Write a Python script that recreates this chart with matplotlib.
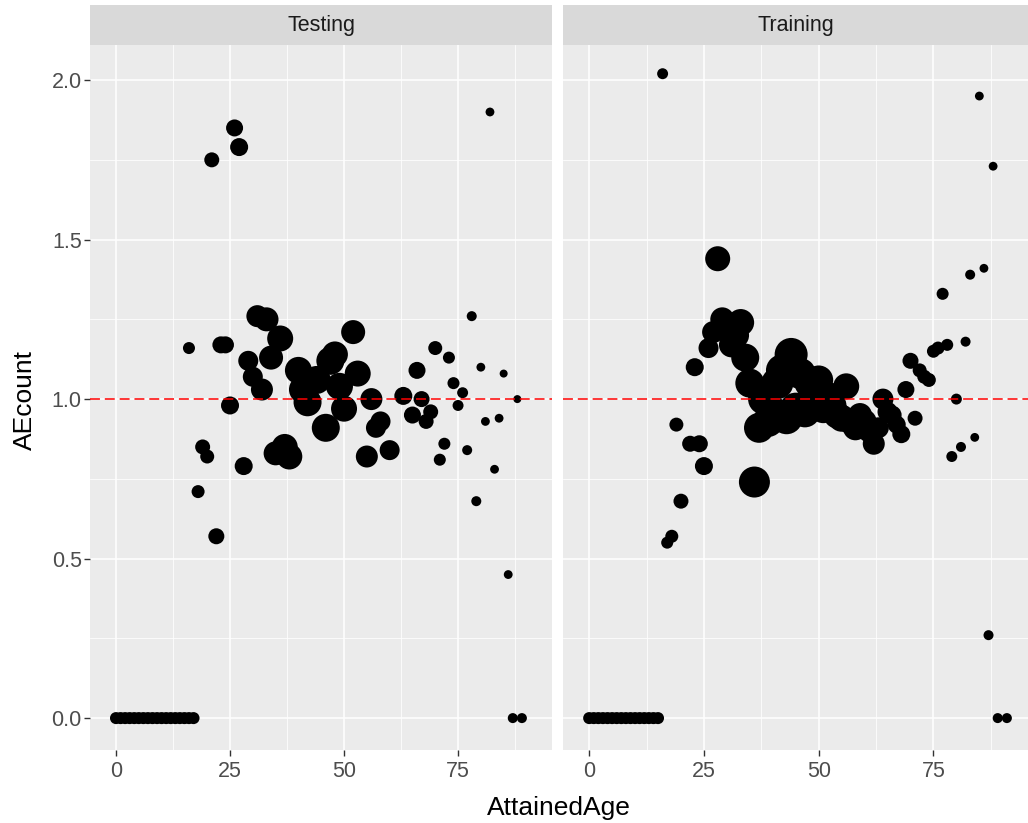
import numpy as np
import matplotlib
matplotlib.use("Agg")
import matplotlib.pyplot as plt
from matplotlib.ticker import MultipleLocator

plt.rcParams['font.family'] = ['Liberation Sans', 'DejaVu Sans']

# Testing facet
test_age = [0, 1, 2, 3, 4, 5, 6, 7, 8, 9, 10, 11, 12, 13, 14, 15, 16, 17,
            16, 18, 19, 20, 21, 22, 23, 24, 25, 26, 27, 28, 29, 30, 31, 32, 33, 34, 35, 36,
            37, 38, 40, 41, 42, 44, 46, 47, 48, 49, 50, 52, 53, 55, 56, 57, 58, 60, 63, 65,
            66, 67, 68, 69, 70, 71, 72, 73, 74, 75, 76, 77, 78, 79, 80, 81, 82, 83, 84, 85,
            86, 87, 88, 89]
test_ae = [0] * 18 + [
    1.16, 0.71, 0.85, 0.82, 1.75, 0.57, 1.17, 1.17, 0.98, 1.85,
    1.79, 0.79, 1.12, 1.07, 1.26, 1.03, 1.25, 1.13, 0.83, 1.19,
    0.85, 0.82, 1.09, 1.03, 0.99, 1.06, 0.91, 1.12, 1.14, 1.04,
    0.97, 1.21, 1.08, 0.82, 1.00, 0.91, 0.93, 0.84, 1.01, 0.95,
    1.09, 1.00, 0.93, 0.96, 1.16, 0.81, 0.86, 1.13, 1.05, 0.98,
    1.02, 0.84, 1.26, 0.68, 1.10, 0.93, 1.90, 0.78, 0.94, 1.08,
    0.45, 0, 1.00, 0]
test_expo = [24] * 18 + [
    24, 37, 72, 53, 72, 95, 120, 120, 148, 120,
    148, 148, 213, 213, 290, 290, 379, 379, 379, 479,
    479, 479, 534, 592, 592, 592, 592, 592, 479, 534,
    479, 379, 479, 290, 290, 213, 213, 213, 148, 120,
    120, 95, 72, 72, 53, 24, 24, 24, 24, 13,
    13, 6, 6, 6, 1, 1, 1, 1, 1, 0,
    1, 6, 0, 6]

# Training facet
train_age = list(range(0, 16)) + [16, 17, 18, 19, 20, 22, 23, 24, 25] + list(range(26, 89)) + [89, 91]
train_ae = [0] * 16 + [
    2.02, 0.55, 0.57, 0.92, 0.68, 0.86, 1.10, 0.86, 0.79,
    1.16, 1.21, 1.44, 1.25, 1.22, 1.17, 1.20, 1.24, 1.13, 1.05,   # 26-35
    0.74, 0.91, 1.00, 0.93, 0.96, 1.05, 1.09, 0.94, 1.14, 0.97,   # 36-45
    1.08, 0.96, 1.05, 0.98, 1.06, 0.97, 1.01, 0.98, 0.95, 0.94,   # 46-55
    1.04, 0.93, 0.91, 0.95, 0.93, 0.90, 0.86, 0.91, 1.00, 0.96,   # 56-65
    0.95, 0.92, 0.89, 1.03, 1.12, 0.94, 1.09, 1.07, 1.06, 1.15,   # 66-75
    1.16, 1.33, 1.17, 0.82, 1.00, 0.85, 1.18, 1.39, 0.88, 1.95,   # 76-85
    1.41, 0.26, 1.73,                                             # 86-88
    0, 0]
train_expo = [24] * 16 + [
    13, 24, 37, 53, 72, 95, 148, 120, 148,
    213, 290, 428, 379, 428, 428, 479, 534, 592, 652,
    783, 716, 783, 783, 783, 852, 852, 852, 925, 852,
    783, 783, 716, 716, 652, 652, 592, 592, 534, 534,
    479, 479, 428, 379, 379, 333, 290, 250, 250, 213,
    179, 148, 148, 120, 95, 72, 53, 53, 53, 37,
    37, 24, 24, 13, 13, 6, 6, 6, 1, 1,
    1, 6, 1,
    6, 6]

panels = [("Testing", test_age, test_ae, test_expo),
          ("Training", train_age, train_ae, train_expo)]


def expo_to_s(e):
    # area scale: diameter in px grows with sqrt(exposure)
    d_px = 8 + 26 * np.sqrt(np.asarray(e, dtype=float) / 1000.0)
    return (d_px * 0.72) ** 2


W, H = 1028, 823
fig = plt.figure(figsize=(W / 100, H / 100), dpi=100)

bottom = 1 - 750 / H
top = 1 - 45 / H
strip_h = 40 / H
lefts = [90 / W, 563 / W]
rights = [552 / W, 1.0]

for i, (name, age, ae, expo) in enumerate(panels):
    ax = fig.add_axes([lefts[i], bottom, rights[i] - lefts[i], top - bottom])
    ax.set_facecolor('#EBEBEB')
    for sp in ax.spines.values():
        sp.set_visible(False)
    ax.set_xlim(-5.7, 95.6)
    ax.set_ylim(-0.1, 2.11)
    ax.xaxis.set_major_locator(MultipleLocator(25))
    ax.xaxis.set_minor_locator(MultipleLocator(12.5))
    ax.yaxis.set_major_locator(MultipleLocator(0.5))
    ax.yaxis.set_minor_locator(MultipleLocator(0.25))
    ax.grid(which='major', color='white', lw=1.1)
    ax.grid(which='minor', color='white', lw=0.55)
    ax.set_axisbelow(True)
    ax.tick_params(which='minor', length=0)
    ax.tick_params(which='major', length=4, width=1, color='#333333',
                   labelcolor='#4D4D4D', labelsize=15.5)
    ax.tick_params(axis='x', pad=4)
    ax.tick_params(axis='y', pad=2)
    ax.set_xticks([0, 25, 50, 75])
    ax.set_xticklabels(['0', '25', '50', '75'])
    if i == 0:
        ax.set_yticks([0, 0.5, 1.0, 1.5, 2.0])
        ax.set_yticklabels(['0.0', '0.5', '1.0', '1.5', '2.0'])
    else:
        ax.tick_params(axis='y', which='both', left=False, labelleft=False)

    ax.scatter(age, ae, s=expo_to_s(expo), color='black', edgecolors='none', zorder=2)
    ax.axhline(1.0, color='red', lw=1.1, ls=(0, (6.5, 3.2)), zorder=3)

    # facet strip
    sax = fig.add_axes([lefts[i], top, rights[i] - lefts[i], strip_h])
    sax.set_facecolor('#D9D9D9')
    sax.set_xticks([])
    sax.set_yticks([])
    for sp in sax.spines.values():
        sp.set_visible(False)
    sax.text(0.5, 0.5, name, ha='center', va='center', fontsize=15.5,
             color='#1A1A1A', transform=sax.transAxes)

fig.text((90 + W) / 2 / W, 1 - 815 / H, 'AttainedAge', ha='center', va='baseline',
         fontsize=19, color='black')
fig.text(25 / W, 1 - 400 / H, 'AEcount', ha='center', va='center',
         rotation=90, fontsize=19, color='black')

fig.savefig('out.png', dpi=100)
